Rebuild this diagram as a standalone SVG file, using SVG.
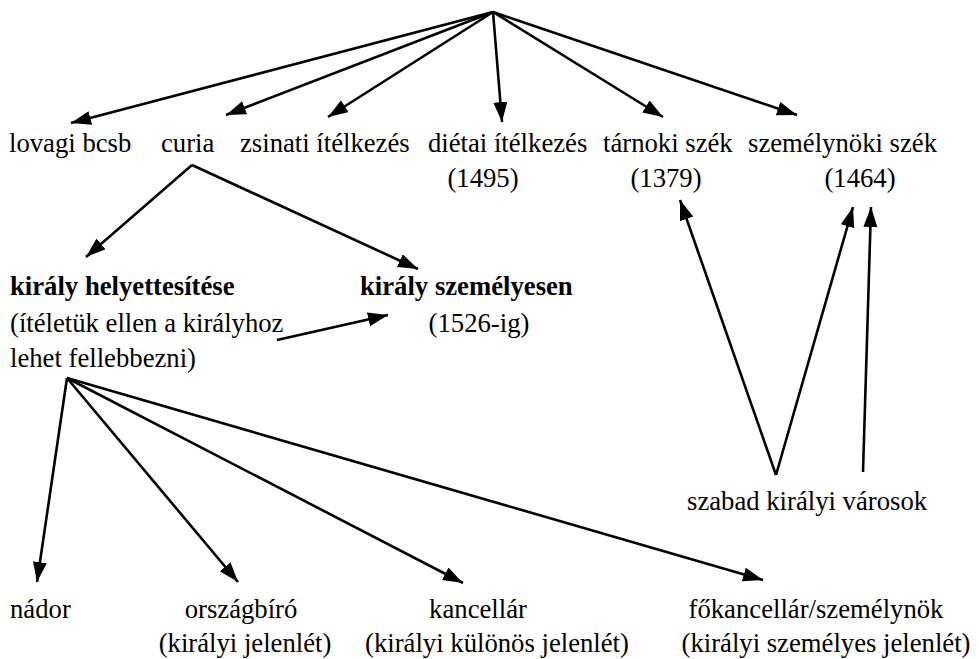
<svg xmlns="http://www.w3.org/2000/svg" width="979" height="659" viewBox="0 0 979 659">
<defs>
<marker id="ah" markerUnits="userSpaceOnUse" markerWidth="22" markerHeight="16" refX="20" refY="7" orient="auto">
<path d="M0,0 L20,7 L0,14 Z" fill="#000"/>
</marker>
<style>
text{font-family:"Liberation Serif","Times New Roman",serif;font-size:26.7px;fill:#000}
.b{font-weight:bold}
.c line{stroke:#000;stroke-width:2.6;marker-end:url(#ah)}
</style>
</defs>
<rect width="979" height="659" fill="#fff"/>
<g class="c" id="connectors">
<line x1="493" y1="12" x2="71" y2="123"/>
<line x1="493" y1="12" x2="226" y2="115"/>
<line x1="493" y1="12" x2="328" y2="117"/>
<line x1="493" y1="12" x2="502" y2="122"/>
<line x1="493" y1="12" x2="663" y2="117"/>
<line x1="493" y1="12" x2="797" y2="115"/>
<line x1="192" y1="165" x2="86" y2="257"/>
<line x1="192" y1="165" x2="418" y2="269"/>
<line x1="277" y1="340" x2="388" y2="315"/>
<line x1="776" y1="475" x2="680" y2="200"/>
<line x1="776" y1="475" x2="853" y2="207"/>
<line x1="863" y1="472" x2="871" y2="207"/>
<line x1="67" y1="378" x2="37" y2="582"/>
<line x1="67" y1="378" x2="238" y2="582"/>
<line x1="67" y1="378" x2="463" y2="583"/>
<line x1="67" y1="378" x2="763" y2="580"/>
</g>
<g id="lovagi"><text x="9" y="152">lovagi bcsb</text></g>
<g id="curia"><text x="161" y="152">curia</text></g>
<g id="zsinati"><text x="240" y="152">zsinati ítélkezés</text></g>
<g id="dietai"><text x="428" y="152">diétai ítélkezés</text><text x="483" y="187" text-anchor="middle">(1495)</text></g>
<g id="tarnoki"><text x="603" y="152">tárnoki szék</text><text x="666" y="187" text-anchor="middle">(1379)</text></g>
<g id="szemelynoki"><text x="748" y="152">személynöki szék</text><text x="860" y="187" text-anchor="middle">(1464)</text></g>
<g id="helyettesitese"><text class="b" x="10" y="295">király helyettesítése</text><text x="10" y="332">(ítéletük ellen a királyhoz</text><text x="10" y="367">lehet fellebbezni)</text></g>
<g id="szemelyesen"><text class="b" x="360" y="295">király személyesen</text><text x="479" y="332" text-anchor="middle">(1526-ig)</text></g>
<g id="varosok"><text x="687" y="510">szabad királyi városok</text></g>
<g id="nador"><text x="10" y="618">nádor</text></g>
<g id="orszagbiro"><text x="241" y="618" text-anchor="middle">országbíró</text><text x="245" y="652" text-anchor="middle">(királyi jelenlét)</text></g>
<g id="kancellar"><text x="478" y="618" text-anchor="middle">kancellár</text><text x="497" y="652" text-anchor="middle">(királyi különös jelenlét)</text></g>
<g id="fokancellar"><text x="816" y="618" text-anchor="middle">főkancellár/személynök</text><text x="826" y="652" text-anchor="middle">(királyi személyes jelenlét)</text></g>
</svg>
